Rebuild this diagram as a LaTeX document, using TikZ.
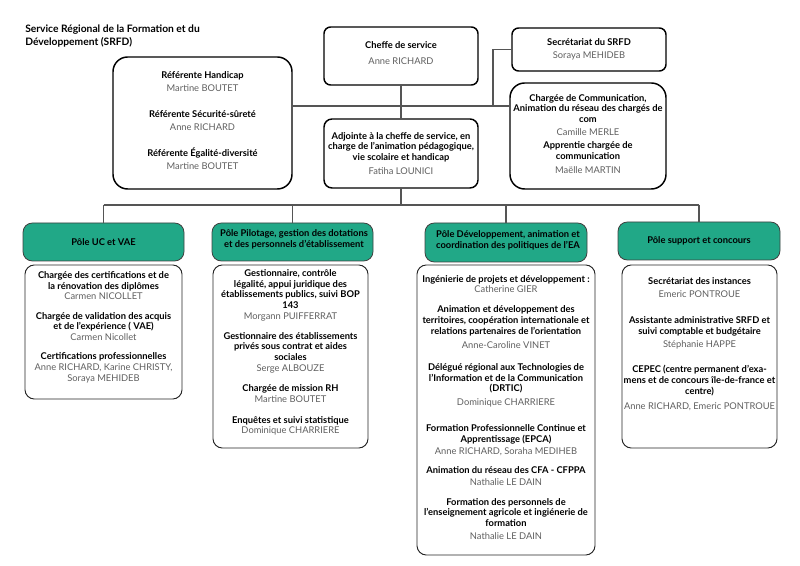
\documentclass[tikz,border=0pt]{standalone}
\usepackage{fontspec}
\setmainfont{Lato}

\definecolor{poleteal}{RGB}{33,168,135}
\definecolor{namegrey}{RGB}{95,95,95}
\definecolor{linkgrey}{RGB}{85,85,85}

% one pixel of the page
\newcommand\pix{*0.75pt}
\newcommand\role[1]{\textbf{#1}}
\newcommand\who[1]{{\color{namegrey}#1}}

\begin{document}
\begin{tikzpicture}[
    x=0.75pt, y=-0.75pt,
    topbox/.style={draw=black, line width=1.1pt, inner sep=0pt, outer sep=0pt},
    polehead/.style={draw=black!75, fill=poleteal, line width=0.6pt,
                     rounded corners=7pt, inner sep=0pt, outer sep=0pt},
    polebox/.style={draw=black!85, line width=0.7pt, rounded corners=7pt,
                    inner sep=0pt, outer sep=0pt},
    txt/.style={align=center, inner sep=0pt, font=\fontsize{7}{8}\selectfont},
    link/.style={draw=linkgrey, line width=0.9pt}
]
  \useasboundingbox (0,0) rectangle (800,566);

  % Title
  \node[anchor=west, align=left, inner sep=0pt,
        font=\fontsize{7.7}{9.7}\selectfont\bfseries] (title) at (25,36.5)
       {Service Régional de la Formation et du\\Développement (SRFD)};

  % Direction
  \node[topbox, rounded corners=11pt, minimum width=179\pix,
        minimum height=132\pix] (refbox) at (202.5,123) {};
  \node[txt] (reftxt) at (202.5,120.5)
       {\role{Référente Handicap}\\[1.7pt]
        \who{Martine BOUTET}\\[11.5pt]
        \role{Référente Sécurité-sûreté}\\[1.7pt]
        \who{Anne RICHARD}\\[11.5pt]
        \role{Référente Égalité-diversité}\\[1.7pt]
        \who{Martine BOUTET}};

  \node[topbox, rounded corners=5pt, minimum width=154\pix,
        minimum height=58\pix] (chefbox) at (401,56) {};
  \node[txt] (cheftxt) at (401,53)
       {\role{Cheffe de service}\\[4pt]\who{Anne RICHARD}};

  \node[topbox, rounded corners=5pt, minimum width=154\pix,
        minimum height=43\pix] (secbox) at (589,49.5) {};
  \node[txt] (sectxt) at (589,49.3)
       {\role{Secrétariat du SRFD}\\[2pt]\who{Soraya MEHIDEB}};

  \node[topbox, rounded corners=11pt, minimum width=156\pix,
        minimum height=106\pix] (combox) at (588,136) {};
  \node[txt] (comtxt) at (588,133.8)
       {\role{Chargée de Communication,}\\
        \role{Animation du réseau des chargés de}\\
        \role{com}\\[1.7pt]
        \who{Camille MERLE}\\[1.7pt]
        \role{Apprentie chargée de}\\
        \role{communication}\\[2.7pt]
        \who{Maëlle MARTIN}};

  \node[topbox, rounded corners=6pt, minimum width=154\pix,
        minimum height=69\pix] (adjbox) at (401,153.5) {};
  \node[txt] (adjtxt) at (401,153.5)
       {\role{Adjointe à la cheffe de service, en}\\
        \role{charge de l’animation pédagogique,}\\
        \role{vie scolaire et handicap}\\[2.7pt]
        \who{Fatiha LOUNICI}};

  % Pole headers
  \node[polehead, minimum width=161\pix, minimum height=38\pix]
       (uchead) at (103.5,242) {};
  \node[txt] (uctitle) at (103.5,242) {\role{Pôle UC et VAE}};
  \node[polehead, minimum width=161\pix, minimum height=38\pix]
       (pilhead) at (292.5,242) {};
  \node[txt] (piltitle) at (294,239)
       {\role{Pôle Pilotage, gestion des dotations}\\
        \role{et des personnels d’établissement}};
  \node[polehead, minimum width=162\pix, minimum height=39\pix]
       (devhead) at (506,242.5) {};
  \node[txt] (devtitle) at (508,240.5)
       {\role{Pôle Développement, animation et}\\
        \role{coordination des politiques de l’EA}};
  \node[polehead, minimum width=162\pix, minimum height=38\pix]
       (suphead) at (699,241) {};
  \node[txt] (suptitle) at (699,241) {\role{Pôle support et concours}};

  % Pole contents
  \node[polebox, minimum width=157\pix, minimum height=134\pix]
       (ucbox) at (103.5,332) {};
  \node[txt] (uctxt) at (103.5,327)
       {\role{Chargée des certifications et de}\\
        \role{la rénovation des diplômes}\\
        \who{Carmen NICOLLET}\\[6.5pt]
        \role{Chargée de validation des acquis}\\
        \role{et de l’expérience ( VAE)}\\
        \who{Carmen Nicollet}\\[6.5pt]
        \role{Certifications professionnelles}\\
        \who{Anne RICHARD, Karine CHRISTY,}\\
        \who{Soraya MEHIDEB}};

  \node[polebox, minimum width=155\pix, minimum height=183\pix]
       (pilbox) at (290.5,356.5) {};
  \node[txt] (piltxt) at (290.5,352.5)
       {\role{Gestionnaire, contrôle}\\
        \role{légalité, appui juridique des}\\
        \role{établissements publics, suivi BOP}\\
        \role{143}\\
        \who{Morgann PUIFFERRAT}\\[7pt]
        \role{Gestionnaire des établissements}\\
        \role{privés sous contrat et aides}\\
        \role{sociales}\\
        \who{Serge ALBOUZE}\\[7.5pt]
        \role{Chargée de mission RH}\\
        \who{Martine BOUTET}\\[7.5pt]
        \role{Enquêtes et suivi statistique}\\
        \who{Dominique CHARRIERE}};

  \node[polebox, minimum width=178\pix, minimum height=290\pix]
       (devbox) at (506,410) {};
  \node[txt] (devtxt) at (506,407.7)
       {\role{Ingénierie de projets et développement :}\\
        \who{Catherine GIER}\\[7pt]
        \role{Animation et développement des}\\
        \role{territoires, coopération internationale et}\\
        \role{relations partenaires de l’orientation}\\[2.3pt]
        \who{Anne-Caroline VINET}\\[8.8pt]
        \role{Délégué régional aux Technologies de}\\
        \role{l’Information et de la Communication}\\
        \role{(DRTIC)}\\[2.3pt]
        \who{Dominique CHARRIERE}\\[11.5pt]
        \role{Formation Professionnelle Continue et}\\
        \role{Apprentissage (EPCA)}\\[1.5pt]
        \who{Anne RICHARD, Soraha MEDIHEB}\\[6pt]
        \role{Animation du réseau des CFA - CFPPA}\\[0.8pt]
        \who{Nathalie LE DAIN}\\[7pt]
        \role{Formation des personnels de}\\
        \role{l’enseignement agricole et ingiénerie de}\\
        \role{formation}\\[2pt]
        \who{Nathalie LE DAIN}};

  \node[polebox, minimum width=155\pix, minimum height=183\pix]
       (supbox) at (699.5,356.5) {};
  \node[txt] (suptxt) at (699.5,344.2)
       {\role{Secrétariat des instances}\\[2pt]
        \who{Emeric PONTROUE}\\[11.5pt]
        \role{Assistante administrative SRFD et}\\
        \role{suivi comptable et budgétaire}\\[1.5pt]
        \who{Stéphanie HAPPE}\\[11.3pt]
        \role{CEPEC (centre permanent d’exa-}\\
        \role{mens et de concours île-de-france et}\\
        \role{centre)}\\[3.7pt]
        \who{Anne RICHARD, Emeric PONTROUE}};

  % Links
  \coordinate (hub) at (401,106);
  \coordinate (seckink) at (493,106);
  \coordinate (bus) at (401,205);
  \draw[link] (chefbox.south) -- (adjbox.north);
  \draw[link] (refbox.east |- hub) -- (combox.west |- hub);
  \draw[link] (seckink) |- (secbox.west);
  \draw[link] (adjbox.south) -- (bus);
  \draw[link] (uchead.north |- bus) -- (suphead.north |- bus);
  \foreach \p in {uchead,pilhead,devhead,suphead}
    \draw[link] (\p.north |- bus) -- (\p.north);
\end{tikzpicture}
\end{document}
